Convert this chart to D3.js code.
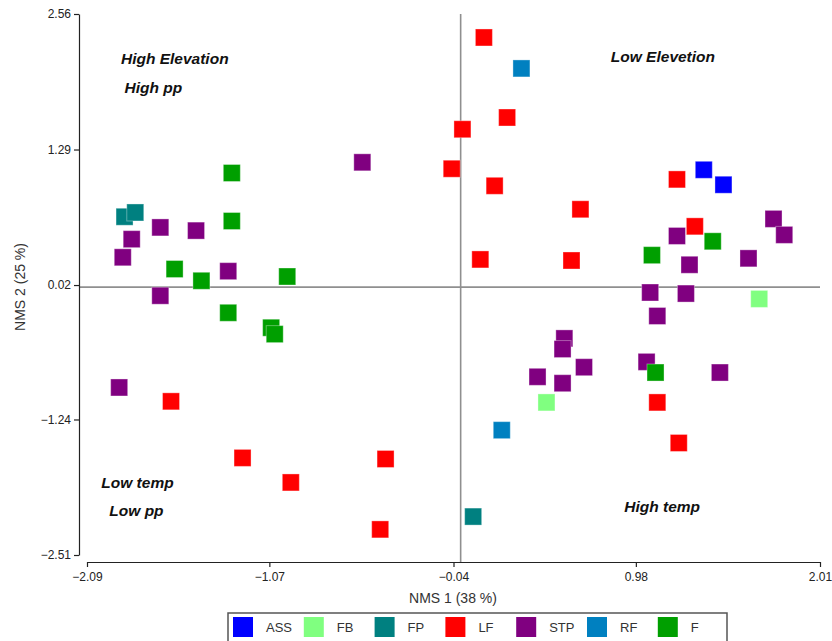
<!DOCTYPE html>
<html><head><meta charset="utf-8">
<script src="https://cdn.jsdelivr.net/npm/d3@7"></script>
<style>body{margin:0;background:#fff}svg{display:block}</style>
</head><body>
<svg id="c" width="832" height="641"></svg>
<script>
const categories = ["ASS","FB","FP","LF","STP","RF","F"];
const colors = ["#0000ff","#80ff80","#008080","#ff0000","#800080","#0080c0","#009f00"];
const xTicks = [-2.09,-1.07,-0.04,0.98,2.01];
const yTicks = [2.56,1.29,0.02,-1.24,-2.51];

const ASS = [[1.36,1.10],[1.47,0.96]];
const FB  = [[1.67,-0.11],[0.48,-1.08]];
const FP  = [[-1.88,0.66],[-1.82,0.70],[0.07,-2.15]];
const LF  = [[-1.62,-1.07],[-1.22,-1.60],[-0.95,-1.83],[-0.42,-1.61],[-0.45,-2.27],
             [0.13,2.34],[0.26,1.59],[0.01,1.48],[-0.05,1.11],[0.19,0.95],[0.67,0.73],
             [0.11,0.26],[0.62,0.25],[1.21,1.01],[1.31,0.57],[1.10,-1.08],[1.22,-1.46]];
const STP = [[-1.68,0.56],[-1.48,0.53],[-1.84,0.45],[-1.89,0.28],[-1.30,0.15],[-1.68,-0.08],
             [-0.55,1.17],[-1.91,-0.94],[1.75,0.64],[1.81,0.49],[1.21,0.48],[1.28,0.21],
             [1.61,0.27],[1.06,-0.05],[1.26,-0.06],[1.10,-0.27],[0.58,-0.48],[0.57,-0.58],
             [0.69,-0.75],[0.43,-0.84],[0.57,-0.90],[1.04,-0.70],[1.45,-0.80]];
const RF  = [[0.34,2.05],[0.23,-1.34]];
const F   = [[-1.28,1.07],[-1.28,0.62],[-1.60,0.17],[-1.45,0.06],[-0.97,0.10],[-1.30,-0.24],
             [-1.06,-0.38],[-1.04,-0.44],[1.41,0.43],[1.07,0.30],[1.09,-0.80]];
const seriesData = [ASS,FB,FP,LF,STP,RF,F];

const annotations = [
  {t:"High Elevation", x:-1.90, y:2.09},
  {t:"High pp", x:-1.88, y:1.82},
  {t:"Low Elevetion", x:0.84, y:2.11},
  {t:"Low temp", x:-2.01, y:-1.88},
  {t:"Low pp", x:-1.965, y:-2.14},
  {t:"High temp", x:0.915, y:-2.11}
];

const svg = d3.select("#c");
const x = d3.scaleLinear().domain([-2.09, 2.01]).range([87, 820]);
const y = d3.scaleLinear().domain([2.56, -2.51]).range([14, 555]);
const yAxisX = 79, xAxisY = 562;

// reference lines
svg.append("line").attr("x1", yAxisX).attr("x2", 820).attr("y1", y(0)).attr("y2", y(0))
  .attr("stroke", "#8f8f8f").attr("stroke-width", 1.6);
svg.append("line").attr("x1", x(0)).attr("x2", x(0)).attr("y1", 14).attr("y2", xAxisY)
  .attr("stroke", "#8f8f8f").attr("stroke-width", 1.6);

// axes
const gy = svg.append("g").attr("transform", `translate(${yAxisX},0)`)
  .call(d3.axisLeft(y).tickValues(yTicks).tickFormat(d3.format(".2f")).tickSize(5).tickSizeOuter(0).tickPadding(3));
const gx = svg.append("g").attr("transform", `translate(0,${xAxisY})`)
  .call(d3.axisBottom(x).tickValues(xTicks).tickFormat(d3.format(".2f")).tickSize(5).tickSizeOuter(0).tickPadding(5));
[gx, gy].forEach(g => {
  g.selectAll("path,line").attr("stroke", "#222").attr("stroke-width", 1.2);
  g.selectAll("text").attr("font-family", "Liberation Sans, Arial, sans-serif")
    .attr("font-size", 12).attr("fill", "#222");
});

svg.append("text").attr("x", 453).attr("y", 603).attr("text-anchor", "middle")
  .attr("font-family", "Liberation Sans, Arial, sans-serif").attr("font-size", 14).attr("fill", "#333")
  .text("NMS 1 (38 %)");
svg.append("text").attr("transform", "translate(25,287) rotate(-90)").attr("text-anchor", "middle")
  .attr("font-family", "Liberation Sans, Arial, sans-serif").attr("font-size", 14).attr("fill", "#333")
  .text("NMS 2 (25 %)");

// annotations
svg.selectAll("text.ann").data(annotations).join("text").attr("class", "ann")
  .attr("x", d => x(d.x)).attr("y", d => y(d.y))
  .attr("font-family", "Liberation Sans, Arial, sans-serif").attr("font-size", 15.5)
  .attr("font-weight", "bold").attr("font-style", "italic").attr("fill", "#111")
  .text(d => d.t);

// points
const S = 17;
seriesData.forEach((arr, i) => {
  svg.append("g").selectAll("rect").data(arr).join("rect")
    .attr("x", d => x(d[0]) - S/2).attr("y", d => y(d[1]) - S/2)
    .attr("width", S).attr("height", S)
    .attr("fill", colors[i]).attr("stroke", "#fff").attr("stroke-opacity", 0.35).attr("stroke-width", 1);
});

// legend
const lg = svg.append("g");
lg.append("rect").attr("x", 228).attr("y", 613).attr("width", 499).attr("height", 40)
  .attr("fill", "#fff").attr("stroke", "#555").attr("stroke-width", 1.5);
categories.forEach((c, i) => {
  const lx = 233 + i * 70.8;
  lg.append("rect").attr("x", lx).attr("y", 617).attr("width", 20).attr("height", 20).attr("fill", colors[i]);
  lg.append("text").attr("x", lx + 33).attr("y", 632).attr("font-family", "Liberation Sans, Arial, sans-serif")
    .attr("font-size", 13).attr("fill", "#333").text(c);
});
</script>
</body></html>
